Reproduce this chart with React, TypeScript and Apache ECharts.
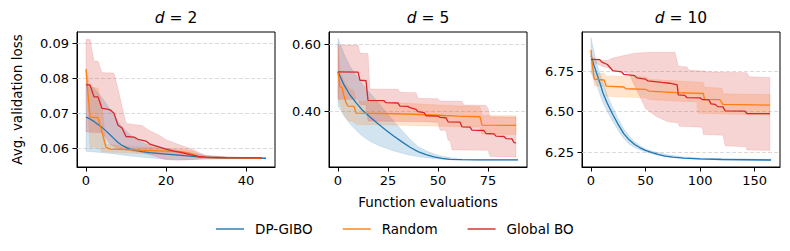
import React, { useEffect, useRef } from "react";
import * as echarts from "echarts";

// ---------- data ----------
const methods = ["DP-GIBO", "Random", "Global BO"];
const panelDims = ["2", "5", "10"];
const xTicks = [[0, 20, 40], [0, 25, 50, 75], [0, 50, 100, 150]];
const yTicks = [[0.06, 0.07, 0.08, 0.09], [0.4, 0.6], [6.25, 6.5, 6.75]];
const xRanges = [[-2.25, 47.25], [-4.5, 94.5], [-8.25, 173.25]];
const yRanges = [[0.0547, 0.0932], [0.233, 0.636], [6.16, 6.99]];

// d = 2
const gibo2Mean = [[0,0.0689],[1,0.0684],[2,0.0677],[3,0.0668],[4,0.066],[5,0.065],[6,0.0639],[7,0.0628],[8,0.0617],[9,0.0609],[10,0.0603],[11,0.0598],[12,0.0595],[14,0.0591],[16,0.0588],[18,0.0586],[20,0.0584],[23,0.0581],[26,0.0578],[29,0.0575],[33,0.0573],[38,0.0572],[45,0.0572]];
const gibo2Lo = [[0,0.0592],[5,0.0587],[10,0.058],[15,0.0574],[20,0.0569],[25,0.0568],[30,0.0569],[35,0.057],[45,0.0571]];
const gibo2Hi = [[0,0.0786],[2,0.0772],[4,0.0745],[6,0.0712],[8,0.0676],[10,0.065],[12,0.063],[15,0.0612],[20,0.06],[25,0.059],[30,0.058],[35,0.0575],[45,0.0573]];
const rand2Mean = [[0,0.0826],[1,0.0689],[3,0.0688],[4,0.0646],[5,0.0603],[6,0.0598],[12,0.0596],[16,0.0594],[20,0.0592],[24,0.059],[26,0.0586],[28,0.0578],[30,0.0574],[35,0.0573],[44,0.0572]];
const rand2Lo = [[0,0.0826],[1,0.0603],[3,0.0603],[4,0.059],[5,0.059],[10,0.0587],[20,0.0583],[25,0.058],[28,0.0574],[31,0.0572],[44,0.0571]];
const rand2Hi = [[0,0.0826],[1,0.0775],[3,0.0772],[4,0.072],[5,0.0612],[10,0.0606],[20,0.06],[25,0.0597],[27,0.0592],[29,0.058],[31,0.0575],[44,0.0573]];
const glob2Mean = [[0,0.0781],[1,0.0781],[2,0.0747],[3,0.0747],[4,0.0714],[5,0.0713],[6,0.071],[7,0.07],[8,0.0666],[9,0.0658],[10,0.0634],[12,0.0632],[13,0.0626],[15,0.0621],[16,0.0612],[18,0.0605],[20,0.0598],[22,0.0592],[24,0.0588],[26,0.0582],[28,0.0577],[30,0.0575],[35,0.0574],[44,0.0573]];
const glob2Lo = [[0,0.0647],[4,0.0645],[5,0.063],[6,0.0612],[8,0.06],[10,0.0595],[14,0.0588],[18,0.0575],[20,0.0568],[23,0.0566],[26,0.0568],[30,0.0571],[44,0.0572]];
const glob2Hi = [[0,0.0911],[1,0.0911],[2,0.0849],[3,0.0849],[4,0.0816],[7,0.0815],[8,0.077],[9,0.072],[10,0.0672],[12,0.0668],[14,0.0665],[16,0.065],[18,0.064],[20,0.0625],[23,0.0612],[26,0.06],[28,0.059],[30,0.058],[35,0.0576],[44,0.0574]];

// d = 5
const gibo5Mean = [[0,0.517],[3,0.478],[6,0.448],[9,0.425],[12,0.404],[16,0.382],[20,0.362],[24,0.343],[28,0.325],[32,0.308],[36,0.292],[40,0.279],[44,0.27],[48,0.263],[52,0.259],[56,0.256],[62,0.255],[70,0.254],[90,0.254]];
const gibo5Lo = [[0,0.415],[3,0.385],[6,0.362],[9,0.343],[12,0.326],[16,0.31],[20,0.298],[24,0.289],[28,0.281],[32,0.274],[36,0.268],[40,0.264],[45,0.26],[50,0.257],[55,0.255],[62,0.254],[90,0.253]];
const gibo5Hi = [[0,0.617],[3,0.571],[6,0.534],[9,0.507],[12,0.482],[16,0.454],[20,0.426],[24,0.397],[28,0.369],[32,0.342],[36,0.316],[40,0.294],[45,0.279],[50,0.268],[55,0.262],[62,0.256],[90,0.255]];
const rand5Mean = [[0,0.517],[1,0.472],[2,0.47],[3,0.445],[4,0.425],[5,0.415],[8,0.414],[9,0.394],[30,0.392],[45,0.389],[60,0.385],[71,0.383],[72,0.358],[89,0.357]];
const rand5Lo = [[0,0.44],[1,0.42],[3,0.39],[5,0.372],[8,0.368],[9,0.36],[30,0.358],[50,0.355],[71,0.352],[72,0.331],[89,0.33]];
const rand5Hi = [[0,0.6],[1,0.52],[3,0.49],[5,0.47],[8,0.46],[9,0.43],[30,0.425],[50,0.418],[71,0.413],[72,0.387],[89,0.386]];
const glob5Mean = [[0,0.517],[10,0.516],[11,0.492],[14,0.491],[15,0.432],[23,0.431],[24,0.425],[30,0.424],[31,0.415],[35,0.414],[36,0.41],[39,0.405],[40,0.398],[43,0.395],[44,0.386],[50,0.385],[51,0.381],[54,0.38],[55,0.368],[61,0.367],[62,0.353],[66,0.352],[67,0.343],[73,0.342],[74,0.333],[78,0.332],[79,0.325],[83,0.324],[84,0.318],[87,0.317],[88,0.306],[89,0.305]];
const glob5Lo = [[0,0.435],[10,0.435],[11,0.42],[14,0.418],[15,0.37],[43,0.368],[50,0.366],[51,0.343],[54,0.342],[55,0.313],[56,0.312],[57,0.284],[75,0.283],[76,0.264],[89,0.263]];
const glob5Hi = [[0,0.597],[10,0.597],[11,0.573],[15,0.572],[16,0.466],[30,0.465],[31,0.456],[39,0.455],[40,0.438],[50,0.437],[51,0.43],[62,0.429],[63,0.418],[74,0.417],[75,0.408],[76,0.383],[89,0.382]];

// d = 10
const gibo10Mean = [[0,6.845],[2,6.8],[5,6.74],[8,6.68],[11,6.615],[15,6.55],[20,6.483],[25,6.42],[30,6.365],[35,6.327],[40,6.298],[45,6.278],[50,6.262],[56,6.248],[62,6.236],[68,6.227],[75,6.221],[85,6.215],[100,6.21],[120,6.206],[165,6.203]];
const gibo10Lo = [[0,6.74],[3,6.7],[6,6.65],[10,6.57],[15,6.5],[20,6.44],[25,6.385],[30,6.335],[35,6.3],[40,6.28],[45,6.265],[50,6.252],[60,6.235],[70,6.222],[85,6.212],[100,6.206],[165,6.2]];
const gibo10Hi = [[0,6.955],[3,6.86],[6,6.78],[10,6.7],[15,6.6],[20,6.525],[25,6.455],[30,6.395],[35,6.35],[40,6.315],[45,6.29],[50,6.27],[60,6.25],[70,6.235],[85,6.222],[100,6.215],[165,6.207]];
const rand10Mean = [[0,6.879],[1,6.8],[3,6.7],[12,6.695],[14,6.657],[30,6.652],[32,6.641],[50,6.637],[53,6.627],[78,6.617],[103,6.612],[104,6.576],[118,6.574],[121,6.545],[164,6.54]];
const rand10Lo = [[0,6.88],[1,6.75],[3,6.66],[12,6.655],[14,6.595],[30,6.59],[50,6.585],[53,6.575],[78,6.565],[97,6.56],[98,6.49],[164,6.478]];
const rand10Hi = [[0,6.88],[1,6.85],[3,6.74],[12,6.735],[14,6.72],[50,6.715],[53,6.7],[78,6.69],[103,6.68],[104,6.65],[120,6.645],[121,6.61],[164,6.605]];
const glob10Mean = [[0,6.822],[8,6.82],[10,6.805],[15,6.79],[20,6.752],[28,6.745],[30,6.73],[40,6.722],[42,6.708],[50,6.7],[52,6.69],[65,6.68],[72,6.675],[79,6.665],[80,6.603],[86,6.6],[88,6.586],[100,6.585],[102,6.575],[108,6.573],[110,6.548],[114,6.545],[116,6.531],[121,6.53],[123,6.505],[141,6.503],[143,6.489],[164,6.488]];
const glob10Lo = [[0,6.81],[10,6.78],[15,6.77],[25,6.755],[35,6.735],[40,6.66],[45,6.59],[50,6.52],[60,6.47],[70,6.44],[80,6.43],[81,6.41],[102,6.405],[103,6.36],[121,6.355],[123,6.29],[142,6.285],[143,6.265],[164,6.262]];
const glob10Hi = [[0,6.83],[10,6.815],[15,6.815],[20,6.83],[30,6.845],[40,6.86],[55,6.865],[77,6.865],[78,6.84],[80,6.78],[88,6.775],[90,6.755],[104,6.75],[106,6.745],[143,6.74],[145,6.715],[164,6.71]];

const panels = [
  { mean: [gibo2Mean, rand2Mean, glob2Mean], lo: [gibo2Lo, rand2Lo, glob2Lo], hi: [gibo2Hi, rand2Hi, glob2Hi] },
  { mean: [gibo5Mean, rand5Mean, glob5Mean], lo: [gibo5Lo, rand5Lo, glob5Lo], hi: [gibo5Hi, rand5Hi, glob5Hi] },
  { mean: [gibo10Mean, rand10Mean, glob10Mean], lo: [gibo10Lo, rand10Lo, glob10Lo], hi: [gibo10Hi, rand10Hi, glob10Hi] },
];

// ---------- styles ----------
const lineColors = ["#1f77b4", "#ff7f0e", "#d62728"];
const bandFill = ["rgba(31,119,180,0.2)", "rgba(255,127,14,0.2)", "rgba(214,39,40,0.2)"];
const bandEdge = ["rgba(31,119,180,0.12)", "rgba(255,127,14,0.12)", "rgba(214,39,40,0.12)"];
const gridLefts = [77, 329, 582];
const gridTop = 32;
const gridW = 198;
const gridH = 135;
const FONT = "DejaVu Sans";

export default function App() {
  const ref = useRef<HTMLDivElement>(null);
  useEffect(() => {
    document.body.style.margin = "0";
    if (!ref.current) return;
    const chart = echarts.init(ref.current, undefined, { renderer: "svg" });

    const grid = gridLefts.map((l) => ({
      left: l, top: gridTop, width: gridW, height: gridH,
      show: true, borderColor: "#000", borderWidth: 1, backgroundColor: "transparent",
    }));
    const xAxis = panels.map((_, i) => ({
      type: "value", gridIndex: i, min: xRanges[i][0], max: xRanges[i][1],
      splitLine: { show: false },
      axisLine: { show: true, onZero: false, lineStyle: { color: "#000", width: 1 } },
      axisTick: { show: true, length: 4.5, lineStyle: { color: "#000", width: 1 }, customValues: xTicks[i] },
      axisLabel: { customValues: xTicks[i], color: "#000", fontSize: 13, fontFamily: FONT, margin: 7 },
    }));
    const yAxis = panels.map((_, i) => ({
      type: "value", gridIndex: i, min: yRanges[i][0], max: yRanges[i][1],
      splitLine: { show: false },
      axisLine: { show: true, onZero: false, lineStyle: { color: "#000", width: 1 } },
      axisTick: { show: true, length: 4.5, lineStyle: { color: "#000", width: 1 }, customValues: yTicks[i] },
      axisLabel: { customValues: yTicks[i], color: "#000", fontSize: 13, fontFamily: FONT, margin: 8, formatter: (v: number) => v.toFixed(2) },
    }));

    const series: any[] = [];
    panels.forEach((p, i) => {
      // grid lines
      series.push({
        type: "line", name: "grid" + i, xAxisIndex: i, yAxisIndex: i, z: 1,
        data: [], symbol: "none", silent: true,
        markLine: {
          silent: true, symbol: ["none", "none"], label: { show: false }, z: 1,
          lineStyle: { type: [4, 2], color: "#d2d2d2", width: 0.8 },
          emphasis: { disabled: true },
          data: yTicks[i].map((v) => ({ yAxis: v })),
        },
      });
      // bands
      for (let m = 0; m < 3; m++) {
        const lo = p.lo[m];
        const hi = p.hi[m];
        series.push({
          type: "custom", name: methods[m] + " band " + i, xAxisIndex: i, yAxisIndex: i, z: 2,
          silent: true, clip: true,
          data: [lo[0]],
          renderItem: (_params: any, api: any) => {
            const pts = hi.map((q) => api.coord(q)).concat(lo.slice().reverse().map((q) => api.coord(q)));
            return {
              type: "polygon",
              shape: { points: pts },
              style: { fill: bandFill[m], stroke: bandEdge[m], lineWidth: 1 },
            };
          },
        });
      }
      // mean lines
      for (let m = 0; m < 3; m++) {
        series.push({
          type: "line", name: methods[m], xAxisIndex: i, yAxisIndex: i, z: 3 + m,
          data: p.mean[m], symbol: "none", showSymbol: false,
          lineStyle: { color: lineColors[m], width: 1.3 },
          itemStyle: { color: lineColors[m] },
          emphasis: { disabled: true },
        });
      }
    });

    const graphic: any[] = panelDims.map((d, i) => ({
      type: "text", x: gridLefts[i] + gridW / 2, y: 17.5, silent: true,
      style: {
        text: "{i|d} = " + d,
        rich: { i: { fontStyle: "italic", fontSize: 15.5, fontFamily: FONT, fill: "#000" } },
        fontSize: 15.5, fontFamily: FONT, fill: "#000", align: "center", verticalAlign: "middle",
      },
    }));
    graphic.push({
      type: "text", x: 17, y: gridTop + gridH / 2, rotation: Math.PI / 2, silent: true,
      style: { text: "Avg. validation loss", fontSize: 13.5, fontFamily: FONT, fill: "#000", align: "center", verticalAlign: "middle" },
    });
    graphic.push({
      type: "text", x: 428, y: 202, silent: true,
      style: { text: "Function evaluations", fontSize: 13.5, fontFamily: FONT, fill: "#000", align: "center", verticalAlign: "middle" },
    });

    chart.setOption({
      animation: false,
      backgroundColor: "#fff",
      grid,
      xAxis,
      yAxis,
      series,
      graphic,
      legend: {
        data: methods.map((n) => ({ name: n, icon: "rect" })),
        left: 216, top: 222, padding: 0,
        itemWidth: 28, itemHeight: 1.4, itemGap: 30,
        selectedMode: false,
        textStyle: { fontSize: 13.5, fontFamily: FONT, color: "#000", padding: [0, 0, 0, 6] },
      },
    });
    return () => chart.dispose();
  }, []);
  return <div ref={ref} style={{ width: 790, height: 251 }} />;
}
